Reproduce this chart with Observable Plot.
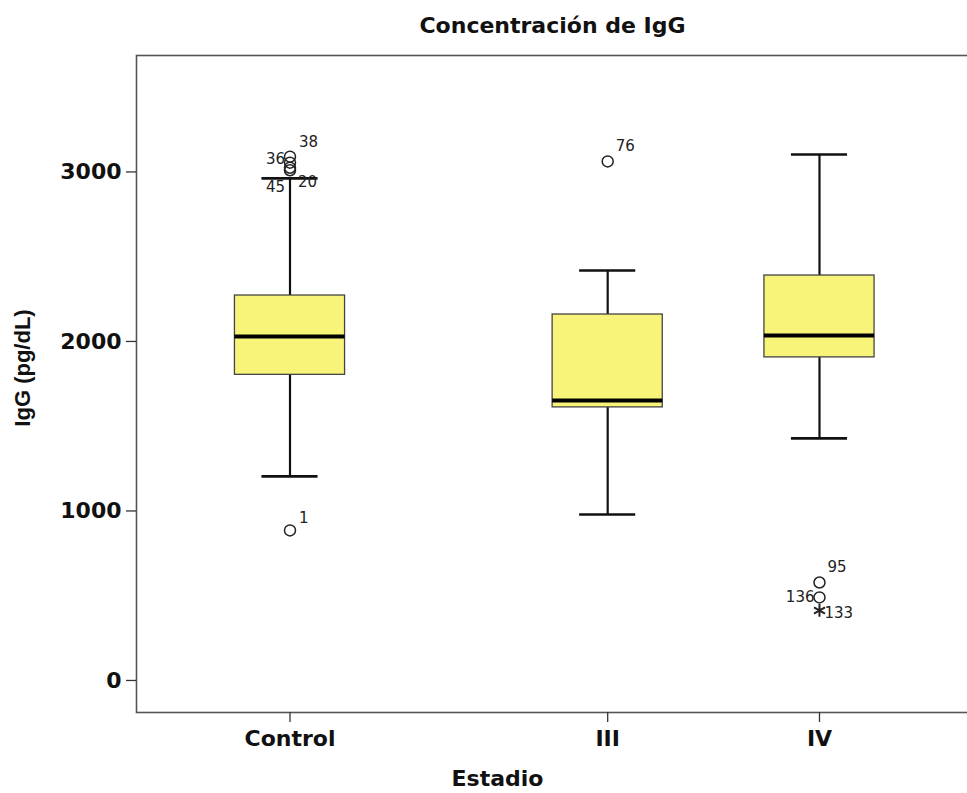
<!DOCTYPE html>
<html>
<head>
<meta charset="utf-8">
<script src="https://cdn.jsdelivr.net/npm/d3@7"></script>
<script src="https://cdn.jsdelivr.net/npm/@observablehq/plot@0.6"></script>
<style>
  html, body { margin: 0; padding: 0; background: #fff; }
</style>
</head>
<body>
<div id="chart"></div>
<script>
// ---- Data ----
const stages = ["Control", "III", "IV"];
const stageSlot = [0, 3, 5];            // category slots along the x axis
const q1 = [1803, 1611, 1906];
const median = [2029, 1652, 2035];
const q3 = [2271, 2159, 2389];
const whiskerLow = [1204, 979, 1428];
const whiskerHigh = [2962, 2419, 3103];

const outlierStage = ["Control", "Control", "Control", "Control", "Control", "III", "IV", "IV", "IV"];
const outlierId = ["38", "36", "45", "20", "1", "76", "95", "136", "133"];
const outlierValue = [3090, 3055, 3025, 3010, 885, 3062, 578, 490, 413];
const outlierExtreme = [false, false, false, false, false, false, false, false, true];

const yTicks = [0, 1000, 2000, 3000];

// ---- Build tables ----
const slotOf = Object.fromEntries(stages.map((s, i) => [s, stageSlot[i]]));
const stats = stages.map((s, i) => ({
  stage: s, slot: stageSlot[i], q1: q1[i], med: median[i], q3: q3[i],
  lo: whiskerLow[i], hi: whiskerHigh[i]
}));
const outliers = outlierId.map((id, i) => ({
  id, stage: outlierStage[i], slot: slotOf[outlierStage[i]],
  value: outlierValue[i], extreme: outlierExtreme[i]
}));

// label placement (style, in pixels)
const labelStyle = {
  "38": {dx: 9, dy: -15, anchor: "start"},
  "36": {dx: -5, dy: -3, anchor: "end"},
  "45": {dx: -5, dy: 19, anchor: "end"},
  "20": {dx: 8, dy: 12, anchor: "start"},
  "1": {dx: 9, dy: -12, anchor: "start"},
  "76": {dx: 8, dy: -15, anchor: "start"},
  "95": {dx: 8, dy: -15, anchor: "start"},
  "136": {dx: -5, dy: 0, anchor: "end"},
  "133": {dx: 5, dy: 3, anchor: "start"}
};

const boxHalf = 0.52;   // in slot units
const capHalf = 0.265;
const FONT = "DejaVu Sans";

const labelMarks = outliers.map(d => {
  const s = labelStyle[d.id];
  return Plot.text([d], {
    x: "slot", y: "value", text: "id",
    dx: s.dx, dy: s.dy, textAnchor: s.anchor,
    fontSize: 15, fill: "#222", fontFamily: FONT
  });
});

const chart = Plot.plot({
  width: 967,
  height: 793,
  marginLeft: 136,
  marginTop: 55,
  marginBottom: 81,
  marginRight: -3,
  style: {fontFamily: FONT, background: "#fff", overflow: "hidden"},
  x: {type: "linear", domain: [-1.4495, 6.426]},
  y: {domain: [-189, 3687]},
  marks: [
    Plot.frame({stroke: "#555", strokeWidth: 1.6}),
    Plot.axisY({
      ticks: yTicks, tickFormat: d => String(d), tickSize: 10, tickPadding: 5,
      fontSize: 22, fontWeight: "bold", fill: "#111", stroke: "#333", strokeWidth: 1.3, label: null
    }),
    Plot.axisX({
      ticks: stageSlot, tickFormat: (d) => stages[stageSlot.indexOf(d)], tickSize: 10, tickPadding: 8,
      fontSize: 22, fontWeight: "bold", fill: "#111", stroke: "#333", strokeWidth: 1.3, label: null
    }),
    // whiskers
    Plot.ruleX(stats, {x: "slot", y1: "lo", y2: "q1", stroke: "#111", strokeWidth: 2.2}),
    Plot.ruleX(stats, {x: "slot", y1: "q3", y2: "hi", stroke: "#111", strokeWidth: 2.2}),
    Plot.ruleY(stats, {y: "lo", x1: d => d.slot - capHalf, x2: d => d.slot + capHalf, stroke: "#111", strokeWidth: 2.6}),
    Plot.ruleY(stats, {y: "hi", x1: d => d.slot - capHalf, x2: d => d.slot + capHalf, stroke: "#111", strokeWidth: 2.6}),
    // boxes
    Plot.rect(stats, {
      x1: d => d.slot - boxHalf, x2: d => d.slot + boxHalf, y1: "q1", y2: "q3",
      fill: "#F8F47A", stroke: "#444", strokeWidth: 1.3
    }),
    Plot.ruleY(stats, {y: "med", x1: d => d.slot - boxHalf, x2: d => d.slot + boxHalf, stroke: "#000", strokeWidth: 4}),
    // outliers
    Plot.dot(outliers.filter(d => !d.extreme), {x: "slot", y: "value", r: 5.5, stroke: "#222", strokeWidth: 1.5, fill: "none"}),
    Plot.dot(outliers.filter(d => d.extreme), {x: "slot", y: "value", symbol: "asterisk", r: 6, stroke: "#222", strokeWidth: 2}),
    ...labelMarks,
    // titles
    Plot.text(["Concentración de IgG"], {
      frameAnchor: "top-left", dx: 416, dy: -30, lineAnchor: "middle", textAnchor: "middle",
      fontSize: 22, fontWeight: "bold", fill: "#111"
    }),
    Plot.text(["Estadio"], {
      frameAnchor: "bottom-left", dx: 361, dy: 66, lineAnchor: "middle", textAnchor: "middle",
      fontSize: 22, fontWeight: "bold", fill: "#111"
    }),
    Plot.text(["IgG (pg/dL)"], {
      frameAnchor: "left", dx: -114, dy: -16, rotate: -90, lineAnchor: "middle", textAnchor: "middle",
      fontSize: 22, fontWeight: "bold", fill: "#111", fontFamily: "Liberation Sans"
    })
  ]
});

document.getElementById("chart").appendChild(chart);
</script>
</body>
</html>
